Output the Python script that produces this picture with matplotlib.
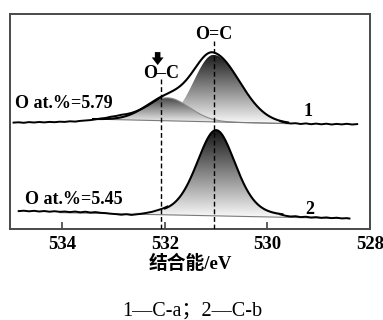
import numpy as np
import matplotlib
matplotlib.use('agg')
import matplotlib.pyplot as plt
from matplotlib.colors import LinearSegmentedColormap

# axis / labels
xticks = [534, 532, 530, 528]
xlabel = '结合能/eV'
caption = '1—C-a；2—C-b'
label_1 = 'O at.%=5.79'
label_2 = 'O at.%=5.45'

# raw spectrum 1 (C-a), intensity in arbitrary units
raw1_left_e = [534.95, 534.85, 534.75, 534.65, 534.55, 534.45, 534.35, 534.25,
               534.15, 534.05, 533.95, 533.85, 533.75, 533.65, 533.55, 533.45,
               533.35, 533.25, 533.15, 533.05, 532.95, 532.85, 532.75, 532.65,
               532.55, 532.45, 532.35, 532.25, 532.15, 532.05]
raw1_left_i = [106.5, 106.8, 106.3, 107.0, 106.6, 107.1, 106.7, 107.2,
               106.9, 107.4, 107.2, 107.8, 107.5, 108.2, 108.6, 109.0,
               109.8, 110.6, 111.2, 112.4, 113.1, 114.3, 115.0, 116.2,
               118.0, 120.2, 123.0, 126.2, 129.5, 132.8]
raw1_right_e = [529.75, 529.65, 529.55, 529.45, 529.35, 529.25, 529.15, 529.05,
                528.95, 528.85, 528.75, 528.65, 528.55, 528.45, 528.35, 528.25]
raw1_right_i = [107.8, 106.6, 105.6, 105.9, 105.1, 105.7, 104.9, 105.5,
                104.8, 105.4, 104.6, 105.2, 104.7, 105.3, 104.6, 105.0]

# raw spectrum 2 (C-b)
raw2_left_e = [534.85, 534.75, 534.65, 534.55, 534.45, 534.35, 534.25, 534.15,
               534.05, 533.95, 533.85, 533.75, 533.65, 533.55, 533.45, 533.35,
               533.25, 533.15, 533.05, 532.95, 532.85, 532.75, 532.65, 532.55,
               532.45, 532.35, 532.25, 532.15, 532.05, 531.95]
raw2_left_i = [18.0, 18.4, 17.8, 18.3, 17.6, 18.1, 17.4, 17.9,
               17.3, 17.6, 17.0, 17.6, 16.8, 17.4, 16.6, 17.0,
               16.3, 16.0, 15.4, 15.0, 14.4, 14.9, 14.2, 14.8,
               15.4, 16.3, 17.3, 18.8, 20.4, 22.6]
raw2_right_e = [529.75, 529.65, 529.55, 529.45, 529.35, 529.25, 529.15, 529.05,
                528.95, 528.85, 528.75, 528.65, 528.55, 528.45, 528.40]
raw2_right_i = [14.8, 13.4, 12.6, 12.9, 12.0, 12.4, 11.6, 12.0,
                11.3, 11.7, 11.0, 11.4, 10.7, 11.0, 10.6]

# fitted components: centre (eV), height, left hwhm, right hwhm, lorentz fraction
peak1_double = [531.05, 67.0, 0.45, 0.60, 0.0]   # O=C
peak1_single = [531.95, 23.0, 0.50, 0.50, 0.0]   # O-C
peak2_double = [531.00, 85.7, 0.45, 0.45, 0.3]   # O=C
# linear backgrounds: (energy, intensity) end points
bg1_e = [533.40, 529.60]
bg1_i = [110.0, 105.5]
bg2_e = [534.05, 528.42]
bg2_i = [16.5, 10.5]

# peak positions marked with dashed lines
mark_single = 532.07
mark_double = 531.05

LBL = dict(family=['Liberation Serif', 'Noto Sans CJK SC'], weight='bold')


def component(e, p):
    c, h, wl, wr, eta = p
    w = np.where(e > c, wl, wr)
    u = ((e - c) / w) ** 2
    return h * ((1 - eta) * np.exp(-np.log(2) * u) + eta / (1 + u))


def background(e, be, bi):
    return np.interp(e, be[::-1], bi[::-1])


def gradientFill(ax, e, low, high, dark, light='#fbfbfb', z=2):
    cmap = LinearSegmentedColormap.from_list('g', [light, dark])
    poly = ax.fill_between(e, low, high, facecolor='none', edgecolor='none')
    grad = np.linspace(0, 1, 256).reshape(-1, 1)
    img = ax.imshow(grad, extent=[e.max(), e.min(), low.min(), high.max()],
                    origin='lower', aspect='auto', cmap=cmap, zorder=z)
    img.set_clip_path(poly.get_paths()[0], transform=ax.transData)


fig = plt.figure(figsize=(3.83, 3.2), dpi=100)
ax = fig.add_axes([0.026, 0.284, 0.940, 0.672])

# spectrum 1
e1 = np.linspace(bg1_e[0], bg1_e[1], 400)
b1 = background(e1, bg1_e, bg1_i)
c1a = component(e1, peak1_double)
c1b = component(e1, peak1_single)
gradientFill(ax, e1, b1, b1 + c1a, '#1c1c1c', z=2)
gradientFill(ax, e1, b1, b1 + c1b, '#4a4a4a', z=3)
ax.plot(e1, b1 + c1b, color='#8a8a8a', lw=0.8, zorder=4)
ax.plot(e1, b1, color='#7a7a7a', lw=0.8, zorder=4)
ax.plot(e1, b1 + c1a + c1b, color='black', lw=1.5, zorder=5)
ax.plot(raw1_left_e, raw1_left_i, color='black', lw=1.4, zorder=5)
ax.plot(raw1_right_e, raw1_right_i, color='black', lw=1.4, zorder=5)

# spectrum 2
e2 = np.linspace(bg2_e[0], bg2_e[1], 500)
b2 = background(e2, bg2_e, bg2_i)
c2 = component(e2, peak2_double)
sel = (e2 < 532.6) & (e2 > 529.4)
gradientFill(ax, e2[sel], b2[sel], (b2 + c2)[sel], '#151515', z=2)
ax.plot(e2, b2, color='#7a7a7a', lw=0.8, zorder=4)
env = (e2 < 532.0) & (e2 > 529.7)
ax.plot(e2[env], (b2 + c2)[env], color='black', lw=1.5, zorder=5)
ax.plot(raw2_left_e, raw2_left_i, color='black', lw=1.4, zorder=5)
ax.plot(raw2_right_e, raw2_right_i, color='black', lw=1.4, zorder=5)

# dashed markers
ax.plot([mark_single, mark_single], [0, 150], color='black', lw=1.0,
        ls=(0, (3.5, 2)), zorder=6)
ax.plot([mark_double, mark_double], [0, 188], color='black', lw=1.0,
        ls=(0, (3.5, 2)), zorder=6)

ax.text(mark_double, 195, 'O=C', ha='center', va='center', fontsize=13, **LBL)
ax.text(mark_single, 156, 'O–C', ha='center', va='center', fontsize=13, **LBL)
ax.annotate('', xy=(532.14, 164), xytext=(532.14, 177),
            arrowprops=dict(arrowstyle='simple,head_length=0.55,head_width=0.85,tail_width=0.4',
                            mutation_scale=10, color='black', lw=0,
                            shrinkA=0, shrinkB=0))
ax.text(534.92, 125.5, label_1, ha='left', va='center', fontsize=13, **LBL)
ax.text(529.2, 118, '1', ha='center', va='center', fontsize=13, **LBL)
ax.text(534.72, 30, label_2, ha='left', va='center', fontsize=13, **LBL)
ax.text(529.18, 20, '2', ha='center', va='center', fontsize=13, **LBL)

ax.set_xlim(535.02, 528.0)
ax.set_ylim(0, 215)
ax.set_xticks(xticks)
ax.set_xticklabels([str(t) for t in xticks], fontsize=13.5, **LBL)
ax.set_yticks([])
ax.tick_params(axis='x', direction='in', length=5, width=1.2, pad=5, color='#444444')
for s in ax.spines.values():
    s.set_linewidth(1.4)
    s.set_color('#4a4a4a')
ax.set_xlabel(xlabel, fontsize=13.5, labelpad=1, **LBL)

fig.text(0.501, 0.028, caption, ha='center', va='center', fontsize=14.5,
         family=['Liberation Serif', 'Noto Sans CJK SC'])

plt.savefig('out.png', dpi=100)
plt.close()
